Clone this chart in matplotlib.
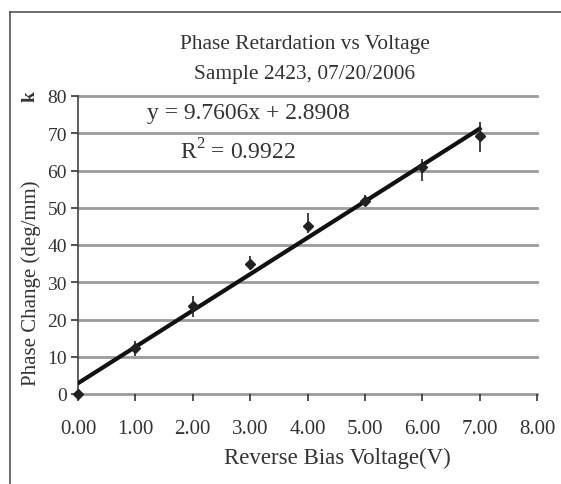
import matplotlib
matplotlib.use("Agg")
import matplotlib.pyplot as plt
import numpy as np
from matplotlib.lines import Line2D

plt.rcParams['font.family'] = ['Liberation Serif', 'DejaVu Serif']
plt.rcParams['mathtext.fontset'] = 'custom'
plt.rcParams['mathtext.rm'] = 'Liberation Serif'

voltage = [0, 1, 2, 3, 4, 5, 6, 7]
phase = [0.0, 12.3, 23.6, 34.9, 45.1, 51.8, 60.9, 69.3]
err_low = [0.0, 2.0, 3.0, 1.5, 1.8, 1.3, 3.8, 4.3]
err_high = [0.0, 1.8, 2.8, 2.2, 3.5, 1.5, 2.2, 3.7]
slope = 9.7606
intercept = 2.8908
fit_x = [0, 7]
x_ticks = [0, 1, 2, 3, 4, 5, 6, 7, 8]
y_ticks = [0, 10, 20, 30, 40, 50, 60, 70, 80]

fig = plt.figure(figsize=(5.61, 4.85), dpi=100)
ax = fig.add_axes([78/561, 1-395/485, (537-78)/561, (395-97)/485])

ax.set_xlim(0, 8)
ax.set_ylim(0, 80)
ax.set_xticks(x_ticks)
ax.set_xticklabels([f"{v:.2f}" for v in x_ticks])
ax.set_yticks(y_ticks)
ax.set_yticklabels([str(v) for v in y_ticks])
ax.tick_params(axis='both', colors='#333333', length=5, width=1.2, direction='out')
ax.tick_params(axis='x', labelsize=15, pad=13)
ax.tick_params(axis='y', labelsize=14, pad=3)

for y in y_ticks:
    ax.axhline(y, color='#9a9a9a', lw=2.0, zorder=1, clip_on=False)
for s in ['top', 'right', 'bottom']:
    ax.spines[s].set_visible(False)
ax.spines['left'].set_color('#444444')
ax.spines['left'].set_linewidth(1.2)

fit_y = [slope * x + intercept for x in fit_x]
ax.plot(fit_x, fit_y, color='#111111', lw=3, zorder=3)
ax.errorbar(voltage, phase, yerr=[err_low, err_high], fmt='D', color='#222222',
            ms=5, elinewidth=1.2, capsize=0, zorder=4, clip_on=False)

ax.text(1.2, 75.6, "y = 9.7606x + 2.8908", fontsize=17, color='#333333', va='center')
ax.text(1.77, 65.3, "R$^2$ = 0.9922", fontsize=17, color='#333333', va='center')

fig.text(305/561, 1-45/485, "Phase Retardation vs Voltage", fontsize=15.4, color='#333333', ha='center', va='center')
fig.text(305/561, 1-75/485, "Sample 2423, 07/20/2006", fontsize=15.4, color='#333333', ha='center', va='center')
fig.text(337/561, 1-458/485, "Reverse Bias Voltage(V)", fontsize=16.5, color='#333333', ha='center', va='center')
fig.text(31/561, 1-283/485, "Phase Change (deg/mm)", fontsize=15, color='#333333', ha='center', va='center', rotation=90)
fig.text(30/561, 1-97/485, "k", fontsize=14, fontweight='bold', color='#333333', ha='center', va='center', rotation=90)

fig.add_artist(Line2D([10/561, 10/561], [0, 1-13/485], transform=fig.transFigure, color='#555555', lw=1.2))
fig.add_artist(Line2D([10/561, 1], [1-13/485, 1-13/485], transform=fig.transFigure, color='#555555', lw=1.2))

fig.savefig("out.png", dpi=100)
